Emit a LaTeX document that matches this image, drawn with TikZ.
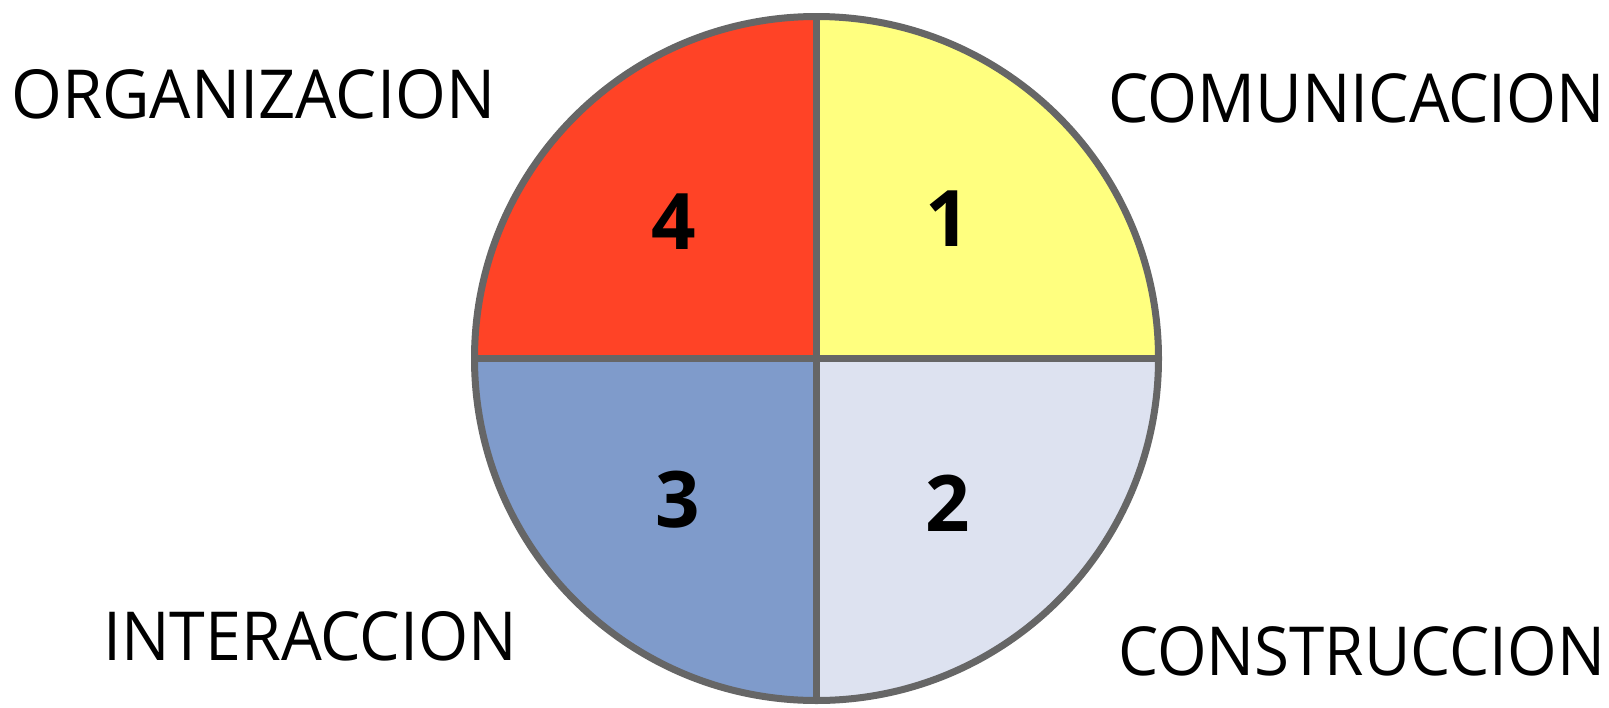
\documentclass[tikz,border=0pt]{standalone}
\usepackage{fontspec}
\setmainfont{Open Sans}
\usetikzlibrary{calc}
\definecolor{cred}{HTML}{FF4326}
\definecolor{cyellow}{HTML}{FFFF7F}
\definecolor{cblue}{HTML}{7F9BCB}
\definecolor{clight}{HTML}{DDE2F0}
\definecolor{cstroke}{HTML}{666666}
\newcommand{\fitlabel}[2]{\resizebox{#1pt}{49pt}{\fontsize{67}{67}\selectfont #2}}
\begin{document}
\begin{tikzpicture}[x=1pt,y=-1pt,
  quad/.style={draw=cstroke,line width=7pt,line join=round},
  lbl/.style={anchor=base west,inner sep=0pt},
  num/.style={anchor=center,inner sep=0pt,font=\fontsize{78}{78}\selectfont\bfseries}]
\useasboundingbox (0,0) rectangle (1609,707);
\coordinate (c) at (816.5,358.5);
\def\R{342}
\fill[cyellow] (c) -- ++(\R,0) arc[start angle=0,end angle=-90,radius=\R] -- cycle;
\fill[cred] (c) -- ++(0,-\R) arc[start angle=-90,end angle=-180,radius=\R] -- cycle;
\fill[cblue] (c) -- ++(-\R,0) arc[start angle=180,end angle=90,radius=\R] -- cycle;
\fill[clight] (c) -- ++(0,\R) arc[start angle=90,end angle=0,radius=\R] -- cycle;
\draw[quad] (c) circle[radius=\R];
\coordinate (L) at ($(c)+(-\R,0)$);
\coordinate (Rt) at ($(c)+(\R,0)$);
\coordinate (T) at ($(c)+(0,-\R)$);
\coordinate (B) at ($(c)+(0,\R)$);
\draw[quad] (L) -- (Rt);
\draw[quad] (T) -- (B);
\node[num] (n4) at (674,222) {4};
\node[num] (n1) at (948,219) {1};
\node[num] (n3) at (678,500) {3};
\node[num] (n2) at (948,503) {2};
\node[lbl] (org) at (11,118) {\fitlabel{484}{ORGANIZACION}};
\node[lbl] (com) at (1108,122) {\fitlabel{497}{COMUNICACION}};
\node[lbl] (int) at (103,660) {\fitlabel{414}{INTERACCION}};
\node[lbl] (con) at (1118,675) {\fitlabel{487}{CONSTRUCCION}};
\end{tikzpicture}
\end{document}
